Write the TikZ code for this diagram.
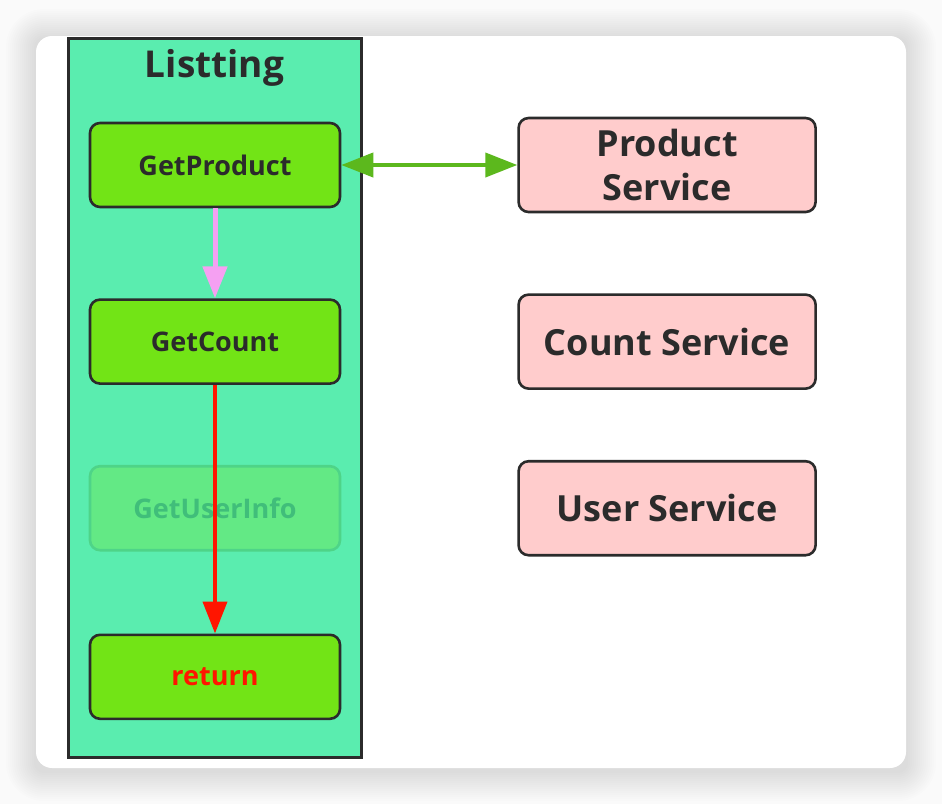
\documentclass[tikz,border=0pt]{standalone}
\usepackage{fontspec}
\setmainfont{Open Sans}
\usetikzlibrary{positioning, arrows.meta}

\definecolor{pagebg}{HTML}{FAFAFA}
\definecolor{listfill}{HTML}{5AEDAF}
\definecolor{stepfill}{HTML}{72E416}
\definecolor{svcfill}{HTML}{FFCCCC}
\definecolor{edgecol}{HTML}{2B2B2B}
\definecolor{callgreen}{HTML}{5CB81D}
\definecolor{nextpink}{HTML}{F5A0F2}
\definecolor{skipred}{HTML}{FF1500}
\definecolor{skipfill}{HTML}{63E985}
\definecolor{skipdraw}{HTML}{4ED488}
\definecolor{skiptext}{HTML}{40BE7A}

\begin{document}
\begin{tikzpicture}[
        x=0.5pt, y=-0.5pt,
        node distance=41pt and 88pt,
        stepbox/.style={rectangle, draw=edgecol, line width=1.3pt, fill=stepfill, rounded corners=5pt, minimum width=125pt, minimum height=42pt, align=center, text=edgecol, font=\bfseries\fontsize{13.5}{16}\selectfont},
        skipbox/.style={stepbox, draw=skipdraw, fill=skipfill, text=skiptext},
        svcbox/.style={rectangle, draw=edgecol, line width=1.3pt, fill=svcfill, rounded corners=5pt, minimum width=148.5pt, minimum height=47pt, align=center, text=edgecol, font=\bfseries\fontsize{18}{22}\selectfont},
        listbox/.style={rectangle, draw=edgecol, line width=1.5pt, fill=listfill, minimum width=146.5pt, minimum height=359.5pt},
        arrow/.style={line width=2pt, -{Triangle[length=16pt, width=12pt]}}
        ]
        \useasboundingbox (0,0) rectangle (942,804);
        \fill[pagebg] (0,0) rectangle (942,804);
        % soft shadow round the card
        \foreach \i in {1,...,15}
            \fill[black, opacity=0.009, rounded corners=4pt+\i pt] (36-2*\i,36-2*\i+3) rectangle (906+2*\i,768+2*\i+3);
        \fill[white, rounded corners=8pt] (36,36) rectangle (906,768);

        \node[listbox] (listting) at (214.5,397.5) {};
        \node[below=3pt of listting.north, text=edgecol, font=\bfseries\fontsize{18.5}{22}\selectfont] (title) {Listting};

        \node[stepbox] (getproduct) at (215,165) {GetProduct};
        \node[stepbox, below=45pt of getproduct] (getcount) {GetCount};
        \node[skipbox, below=40pt of getcount] (getuserinfo) {GetUserInfo};
        \node[stepbox, below=of getuserinfo, text=skipred] (return) {return};

        \node[svcbox, right=of getproduct] (productsvc) {Product\\Service};
        \node[svcbox, right=of getcount] (countsvc) {Count Service};
        \node[svcbox, right=of getuserinfo] (usersvc) {User Service};

        \draw[arrow, callgreen, {Triangle[length=16pt, width=12pt]}-{Triangle[length=16pt, width=12pt]}] (getproduct) -- (productsvc);
        \draw[arrow, nextpink, line width=2.5pt] (getproduct) -- (getcount);
        \draw[arrow, skipred] (getcount) -- (return);
    \end{tikzpicture}
\end{document}
